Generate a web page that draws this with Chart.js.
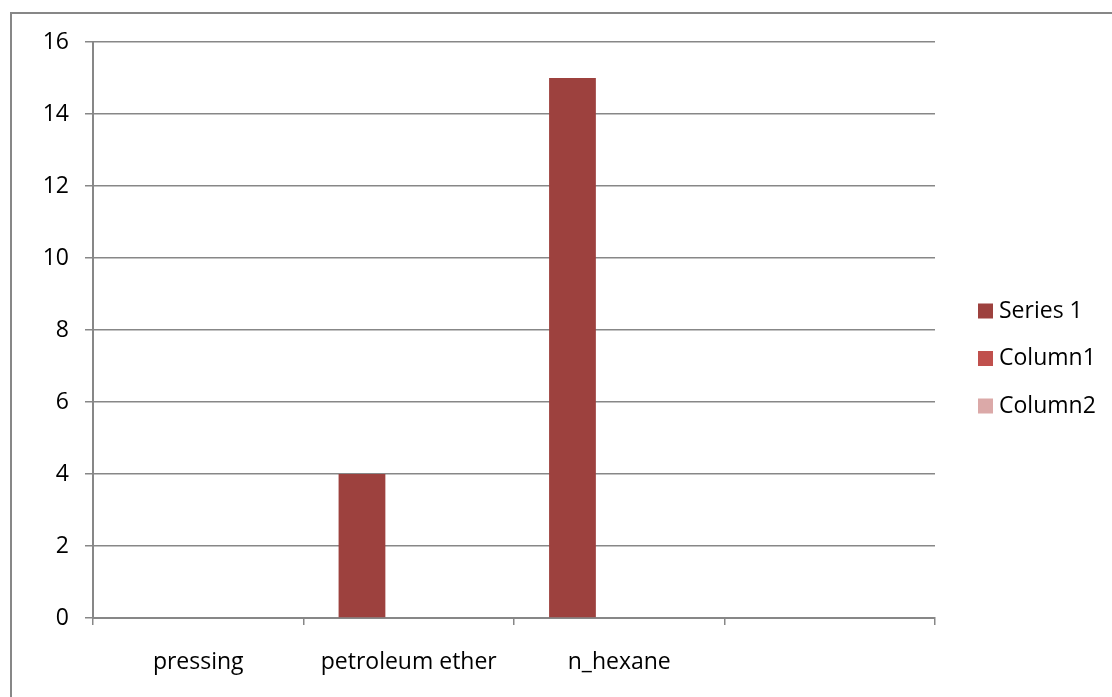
<!DOCTYPE html>
<html lang="en">
  <head>
    <meta charset="UTF-8">
    <title>Extraction yield by method</title>
    <script src="https://cdn.jsdelivr.net/npm/chart.js"></script>
    <style>
      html, body { margin: 0; padding: 0; background: #fff; overflow: hidden; }
      #wrap { position: relative; width: 1112px; height: 697px; }
      #frame {
        position: absolute; left: 10px; top: 12px;
        width: 1120px; height: 700px;
        border: 2px solid #878787; box-sizing: border-box;
        pointer-events: none;
      }
      canvas { position: absolute; left: 0; top: 0; }
    </style>
  </head>
  <body>
    <div id="wrap">
      <canvas id="myChart" width="1112" height="697"></canvas>
      <div id="frame"></div>
    </div>
    <script>
      // categories along the x axis (the last one is empty in the source sheet)
      const categories = ["pressing", "petroleum ether", "n_hexane", ""];

      // series values
      const series1 = [0, 4, 15, null];
      const column1 = [null, null, null, null];
      const column2 = [null, null, null, null];

      const seriesNames = ["Series 1", "Column1", "Column2"];
      const seriesColors = ["#9d413e", "#c0504d", "#dba9a8"];

      const yTicks = [0, 2, 4, 6, 8, 10, 12, 14, 16];

      const fontFamily = "'Open Sans', sans-serif";
      const axisGrey = "#878787";

      // Legend drawn on the right, like the spreadsheet one
      const sideLegend = {
        id: "sideLegend",
        afterDraw(chart) {
          const ctx = chart.ctx;
          ctx.save();
          ctx.font = "23px " + fontFamily;
          ctx.textBaseline = "middle";
          chart.data.datasets.forEach((ds, i) => {
            const cy = 311 + i * 47.5;
            ctx.fillStyle = ds.backgroundColor;
            ctx.fillRect(978, cy - 7.5, 15, 15);
            ctx.fillStyle = "#000";
            ctx.fillText(ds.label, 999, cy);
          });
          ctx.restore();
        }
      };

      const ctx = document.getElementById("myChart").getContext("2d");
      const chart = new Chart(ctx, {
        type: "bar",
        data: {
          labels: categories,
          datasets: [
            { label: seriesNames[0], data: series1, backgroundColor: seriesColors[0] },
            { label: seriesNames[1], data: column1, backgroundColor: seriesColors[1] },
            { label: seriesNames[2], data: column2, backgroundColor: seriesColors[2] }
          ]
        },
        options: {
          responsive: false,
          animation: false,
          devicePixelRatio: 1,
          categoryPercentage: 3 / 4.5,
          barPercentage: 1,
          layout: { padding: { left: 0, right: 177, top: 42, bottom: 0 } },
          plugins: {
            legend: { display: false },
            tooltip: { enabled: false }
          },
          scales: {
            x: {
              grid: {
                offset: true,
                drawOnChartArea: false,
                drawTicks: true,
                tickLength: 7,
                color: axisGrey,
                lineWidth: 1.5
              },
              border: { color: axisGrey, width: 2 },
              ticks: {
                color: "#000",
                font: { family: fontFamily, size: 23 },
                padding: 24,
                maxRotation: 0
              },
              afterFit(scale) { scale.height = 697 - 618; }
            },
            y: {
              min: 0,
              max: 16,
              afterBuildTicks(scale) {
                scale.ticks = yTicks.map(v => ({ value: v }));
              },
              grid: {
                color: axisGrey,
                lineWidth: 1.5,
                drawTicks: true,
                tickLength: 8
              },
              border: { color: axisGrey, width: 2 },
              ticks: {
                color: "#000",
                font: { family: fontFamily, size: 23 },
                padding: 16
              },
              afterFit(scale) { scale.width = 93; }
            }
          }
        },
        plugins: [sideLegend]
      });
    </script>
  </body>
</html>
